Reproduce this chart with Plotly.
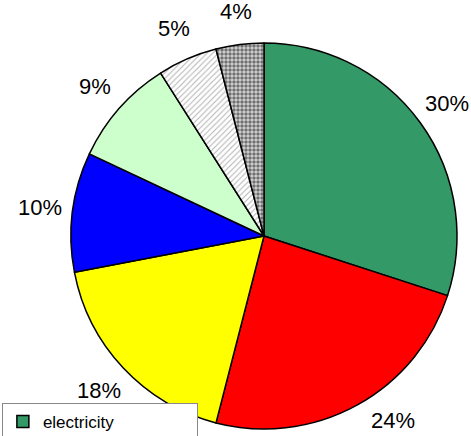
import math
import plotly.graph_objects as go

labels = ["electricity", "natural gas", "heating oil", "district heating", "wood", "coal", "renewable energies"]
values = [30, 24, 18, 10, 9, 5, 4]
colors = ["#339966", "#FF0000", "#FFFF00", "#0000FF", "#CCFFCC", "#FFFFFF", "#D8D8D8"]
patterns = ["", "", "", "", "", "/", "."]
pattern_fg = ["black", "black", "black", "black", "black", "#B4B4B4", "#707070"]
pattern_size = [5, 5, 5, 5, 5, 4, 4]
pattern_solidity = [0.3, 0.3, 0.3, 0.3, 0.3, 0.25, 0.6]

W, H = 471, 436
dom_x = [0.1507, 0.9703]
dom_y = [0.0161, 0.9014]
label_font = dict(family="Liberation Sans, Arial", size=22, color="black")

fig = go.Figure(go.Pie(
    labels=labels,
    values=values,
    sort=False,
    direction="clockwise",
    rotation=0,
    marker=dict(
        colors=colors,
        line=dict(color="black", width=1.5),
        pattern=dict(shape=patterns, fgcolor=pattern_fg, bgcolor=colors,
                     size=pattern_size, solidity=pattern_solidity),
    ),
    textinfo="none",
    hoverinfo="label+percent",
    domain=dict(x=dom_x, y=dom_y),
    showlegend=True,
))

# percentage labels placed outside each slice, derived from the values
total = sum(values)
cx = (dom_x[0] + dom_x[1]) / 2
cy = (dom_y[0] + dom_y[1]) / 2
r_px = min((dom_x[1] - dom_x[0]) * W, (dom_y[1] - dom_y[0]) * H) / 2
dist = 1.17 * r_px
max_dy_px = cy * H - 15  # keep labels inside the bottom edge
annotations = []
cum = 0
for v in values:
    mid = (cum + v / 2) / total * 2 * math.pi
    cum += v
    dx_px = dist * math.sin(mid)
    dy_px = dist * math.cos(mid)
    if -dy_px > max_dy_px:
        dy_px = -max_dy_px
        dx_px = math.copysign(math.sqrt(dist ** 2 - dy_px ** 2), dx_px)
    annotations.append(dict(
        x=cx + dx_px / W,
        y=cy + dy_px / H,
        xref="paper", yref="paper",
        text=f"{round(100 * v / total)}%",
        showarrow=False, font=label_font,
        xanchor="center", yanchor="middle",
    ))

fig.update_layout(
    width=W, height=H,
    margin=dict(l=0, r=0, t=0, b=0, autoexpand=False),
    paper_bgcolor="white",
    plot_bgcolor="white",
    annotations=annotations,
    legend=dict(
        x=0.004, xanchor="left", y=0.076, yanchor="top",
        bgcolor="white", bordercolor="#888888", borderwidth=1,
        font=dict(family="Liberation Sans, Arial", size=17, color="black"),
        traceorder="normal", itemwidth=30,
    ),
)

fig.write_html("out.html", config={"displayModeBar": False},
               post_script="document.body.style.margin='0px';")
